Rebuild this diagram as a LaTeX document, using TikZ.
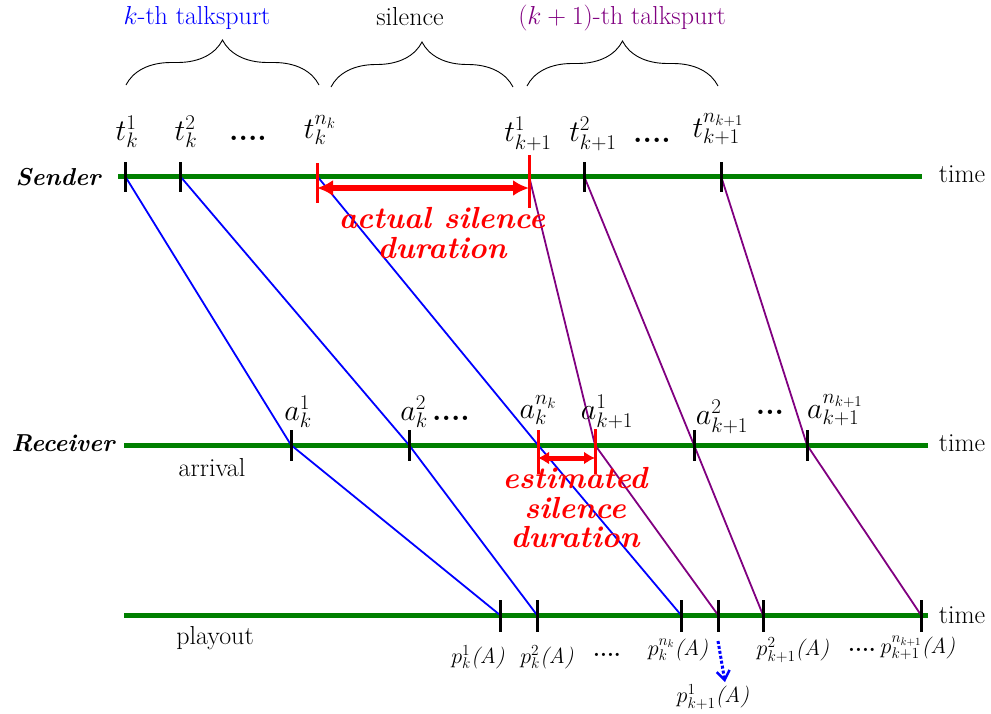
\RequirePackage{fix-cm}
\documentclass[tikz,border=0pt]{standalone}
\usetikzlibrary{arrows.meta,decorations.pathreplacing}
\definecolor{axisgreen}{RGB}{0,128,0}
\definecolor{tspurple}{RGB}{128,0,128}
\begin{document}
\begin{tikzpicture}[x=1pt,y=-1pt,
  axis/.style={draw=axisgreen,line width=5pt},
  tickmark/.style={draw=black,line width=3pt},
  redtick/.style={draw=red,line width=3pt},
  kpath/.style={draw=blue,line width=1.8pt},
  kkpath/.style={draw=tspurple,line width=1.8pt},
  txt/.style={font=\fontsize{26}{30}\selectfont,inner sep=0pt},
  mlab/.style={font=\fontsize{30}{34}\selectfont,inner sep=0pt},
  plab/.style={font=\fontsize{22}{26}\selectfont,inner sep=0pt},
  rolelab/.style={font=\fontsize{24.5}{30}\selectfont\bfseries\itshape,inner sep=0pt},
  redlab/.style={font=\fontsize{30.5}{29.5}\selectfont\bfseries\itshape,text=red,align=center,inner sep=0pt},
  bracestyle/.style={draw=black,line width=0.9pt,decorate,decoration={brace,amplitude=45pt}},
  redarrow/.style={draw=red,line width=6pt,{Latex[length=16pt,width=16pt]}-{Latex[length=16pt,width=16pt]}},
  redarrowsmall/.style={draw=red,line width=5pt,{Latex[length=11pt,width=13pt]}-{Latex[length=11pt,width=13pt]}},
]
\useasboundingbox (0,0) rectangle (991,713);

% ---- axes
\coordinate (sL) at (118,176); \coordinate (sR) at (922,176);
\coordinate (rL) at (124,445); \coordinate (rR) at (928,445);
\coordinate (pL) at (124,615); \coordinate (pR) at (928,615);
\draw[axis] (sL) -- (sR);
\draw[axis] (rL) -- (rR);
\draw[axis] (pL) -- (pR);
\node[txt] (stime) at (962,174) {time};
\node[txt] (rtime) at (962,443) {time};
\node[txt] (ptime) at (962,615) {time};
\node[rolelab] (sender) at (58,177) {Sender};
\node[rolelab] (receiver) at (63,443) {Receiver};
\node[txt] (arrival) at (212,468) {arrival};
\node[txt] (playout) at (215,638) {playout};

% ---- tick coordinates
\coordinate (s1) at (125,176); \coordinate (s2) at (180,176); \coordinate (s3) at (317,176);
\coordinate (s4) at (529,176); \coordinate (s5) at (584,176); \coordinate (s6) at (721,176);
\coordinate (r1) at (291,445); \coordinate (r2) at (409,445); \coordinate (r3) at (538,445);
\coordinate (r4) at (595,445); \coordinate (r5) at (694,445); \coordinate (r6) at (807,445);
\coordinate (p1) at (500,615); \coordinate (p2) at (537,615); \coordinate (p3) at (681,615);
\coordinate (p4) at (718,615); \coordinate (p5) at (763,615); \coordinate (p6) at (921,615);

% ---- connectors
\draw[kpath] (s1) -- (r1) -- (p1);
\draw[kpath] (s2) -- (r2) -- (p2);
\draw[kpath] (s3) -- (r3) -- (p3);
\draw[kkpath] (s4) -- (r4) -- (p4);
\draw[kkpath] (s5) -- (r5) -- (p5);
\draw[kkpath] (s6) -- (r6) -- (p6);

% ---- ticks
\foreach \c in {s1,s2,s5,s6} \draw[tickmark] ([yshift=14pt]\c) -- ([yshift=-16pt]\c);
\draw[redtick] ([yshift=13pt]s3) -- ([yshift=-27pt]s3);
\draw[redtick] ([yshift=21pt]s4) -- ([yshift=-32pt]s4);
\foreach \c in {r1,r2,r5,r6} \draw[tickmark] ([yshift=15pt]\c) -- ([yshift=-16pt]\c);
\draw[redtick] ([yshift=15pt]r3) -- ([yshift=-29pt]r3);
\draw[redtick] ([yshift=16pt]r4) -- ([yshift=-29pt]r4);
\foreach \c in {p1,p2,p3,p4,p5,p6} \draw[tickmark] ([yshift=15pt]\c) -- ([yshift=-17pt]\c);

% ---- red duration arrows
\draw[redarrow] ([yshift=-12pt]s3) -- ([yshift=-12pt]s4);
\draw[redarrowsmall] ([yshift=-13pt]r3) -- ([yshift=-13pt]r4);
\node[redlab] (actual) at (442,233) {actual silence\\duration};
\node[redlab] (estimated) at (575,508) {estimated\\silence\\duration};

% ---- braces and phase labels
\draw[bracestyle] (126,85) -- (319,85);
\draw[bracestyle] (331,87) -- (513,87);
\draw[bracestyle] (527,86) -- (718,86);
\node[txt,text=blue] (ktalk) at (197,18) {$k$-th talkspurt};
\node[txt] (silence) at (410,17) {silence};
\node[txt,text=tspurple] (kktalk) at (622,18) {$(k+1)$-th talkspurt};

% ---- sender labels
\node[mlab] (lt1) at (127,132) {$t_k^1$};
\node[mlab] (lt2) at (186,132) {$t_k^2$};
\node[mlab] (ltd1) at (248,138) {\textbf{....}};
\node[mlab] (lt3) at (320,130) {$t_k^{n_k}$};
\node[mlab] (lt4) at (528,134) {$t_{k+1}^1$};
\node[mlab] (lt5) at (593,134) {$t_{k+1}^2$};
\node[mlab] (ltd2) at (652,140) {\textbf{....}};
\node[mlab] (lt6) at (718,129) {$t_{k+1}^{n_{k+1}}$};

% ---- receiver labels
\node[mlab] (la1) at (298,412) {$a_k^1$};
\node[mlab] (la2) at (414,412) {$a_k^2$};
\node[mlab] (lad1) at (451,418) {\textbf{....}};
\node[mlab] (la3) at (538,410) {$a_k^{n_k}$};
\node[mlab] (la4) at (607,412) {$a_{k+1}^1$};
\node[mlab] (la5) at (722,417) {$a_{k+1}^2$};
\node[mlab] (lad2) at (770,412) {\textbf{...}};
\node[mlab] (la6) at (835,410) {$a_{k+1}^{n_{k+1}}$};

% ---- playout labels
\node[plab] (lp1) at (478,657) {$p_k^1$\textit{(A)}};
\node[plab] (lp2) at (547,657) {$p_k^2$\textit{(A)}};
\node[plab] (lpd1) at (607,655) {\textbf{....}};
\node[plab] (lp3) at (678,650) {$p_k^{n_k}$\textit{(A)}};
\node[plab] (lp5) at (793,650) {$p_{k+1}^2$\textit{(A)}};
\node[plab] (lpd2) at (862,650) {\textbf{....}};
\node[plab] (lp6) at (918,648) {$p_{k+1}^{n_{k+1}}$\textit{(A)}};
\node[plab] (lp4) at (713,697) {$p_{k+1}^1$\textit{(A)}};

% ---- dotted arrow to p_{k+1}^1
\coordinate (dotend) at (725,682);
\draw[blue,line width=3pt,dotted,-{Straight Barb[length=9pt,width=13pt,line width=2.5pt]}] ([yshift=-26pt]p4) -- (dotend);
\end{tikzpicture}
\end{document}
